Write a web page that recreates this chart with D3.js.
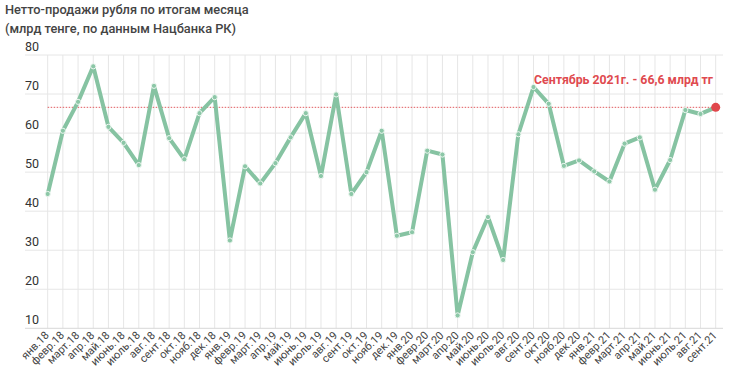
<!DOCTYPE html>
<html><head><meta charset="utf-8">
<script src="https://cdn.jsdelivr.net/npm/d3@7"></script>
<style>
body{margin:0;background:#fff;}
text{font-family:Roboto,"Noto Sans",sans-serif;}
</style></head>
<body>
<svg id="c" width="730" height="381"></svg>
<script>
const months = ["янв.18","февр.18","март.18","апр.18","май.18","июнь.18","июль.18","авг.18","сент.18","окт.18","нояб.18","дек.18",
"янв.19","февр.19","март.19","апр.19","май.19","июнь.19","июль.19","авг.19","сент.19","окт.19","нояб.19","дек.19",
"янв.20","февр.20","март.20","апр.20","май.20","июнь.20","июль.20","авг.20","сент.20","окт.20","нояб.20","дек.20",
"янв.21","февр.21","март.21","апр.21","май.21","июнь.21","июль.21","авг.21","сент.21"];
const values = [44.4,60.6,68.0,77.1,61.6,57.5,51.8,72.1,58.7,53.3,65.1,69.2,
32.5,51.5,47.1,52.3,58.9,65.1,49.0,69.9,44.4,50.0,60.6,33.7,
34.6,55.5,54.5,13.3,29.5,38.5,27.5,59.7,71.8,67.5,51.6,53.0,
50.2,47.6,57.3,58.9,45.5,53.1,65.9,64.9,66.6];
const yTicks = [10,20,30,40,50,60,70,80];
const refValue = 66.6;
const titleLines = ["Нетто-продажи рубля по итогам месяца","(млрд тенге, по данным Нацбанка РК)"];
const annotation = "Сентябрь 2021г. - 66,6 млрд тг";

const svg = d3.select("#c");
const x = d3.scalePoint().domain(months).range([47.7,715.7]);
const y = d3.scaleLinear().domain([10,80]).range([328.3,55]);
const gridLeft = 25, gridRight = 723;

// title
svg.append("g").selectAll("text").data(titleLines).join("text")
  .attr("x",5).attr("y",(d,i)=>14+i*19)
  .attr("font-size",12.8).attr("font-weight",500).attr("fill","#444").text(d=>d);

// vertical grid
svg.append("g").selectAll("line").data(months).join("line")
  .attr("x1",d=>x(d)).attr("x2",d=>x(d)).attr("y1",y(80)).attr("y2",y(10))
  .attr("stroke","#e6e6e6").attr("stroke-width",1);
// horizontal grid
svg.append("g").selectAll("line").data(yTicks).join("line")
  .attr("x1",gridLeft).attr("x2",gridRight).attr("y1",d=>y(d)).attr("y2",d=>y(d))
  .attr("stroke",d=>d===10?"#d8d8d8":"#e6e6e6").attr("stroke-width",1);
// y labels
svg.append("g").selectAll("text").data(yTicks).join("text")
  .attr("x",gridLeft).attr("y",d=>y(d)-4)
  .attr("font-size",12.5).attr("fill","#333").text(d=>d);

// x labels
svg.append("g").selectAll("text").data(months).join("text")
  .attr("transform",d=>`translate(${x(d)+2},${336}) rotate(-45)`)
  .attr("text-anchor","end").attr("font-size",11).attr("fill","#444").text(d=>d);

// reference line
svg.append("line").attr("x1",x(months[0])).attr("x2",x(months[months.length-1]))
  .attr("y1",y(refValue)).attr("y2",y(refValue))
  .attr("stroke","#e05a5f").attr("stroke-width",1).attr("stroke-dasharray","1.5,1.5");

// line
const line = d3.line().x((d,i)=>x(months[i])).y(d=>y(d));
svg.append("path").datum(values).attr("d",line).attr("fill","none")
  .attr("stroke","#86c3a2").attr("stroke-width",4).attr("stroke-linejoin","round");
// dots
svg.append("g").selectAll("circle").data(values.slice(0,-1)).join("circle")
  .attr("cx",(d,i)=>x(months[i])).attr("cy",d=>y(d)).attr("r",2.6)
  .attr("fill","#8cc7a7").attr("stroke","#eef7f1").attr("stroke-width",1);
// last point
svg.append("circle").attr("cx",x(months[months.length-1])).attr("cy",y(values[values.length-1]))
  .attr("r",4.5).attr("fill","#e0474c");

// annotation
svg.append("text").attr("x",713).attr("y",84).attr("text-anchor","end")
  .attr("font-size",12.3).attr("font-weight",700).attr("fill","#df4a4f").text(annotation);
</script>
</body></html>
